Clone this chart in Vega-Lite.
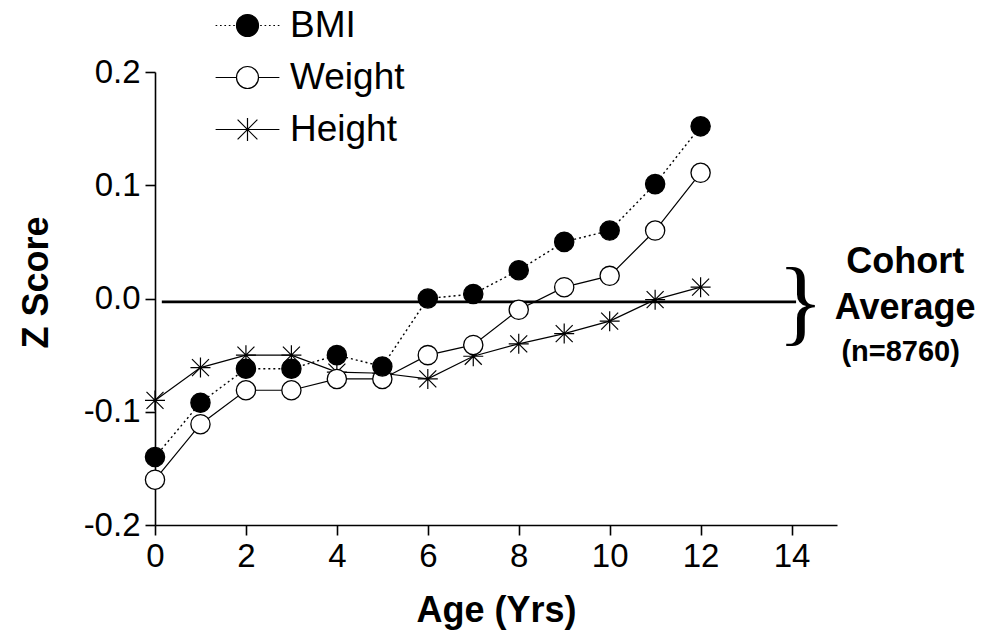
{
  "$schema": "https://vega.github.io/schema/vega-lite/v6.json",
  "width": 682,
  "height": 453,
  "autosize": "none",
  "padding": {"left": 155, "top": 72, "right": 144, "bottom": 112},
  "background": "white",
  "config": {
    "view": {"stroke": null},
    "font": "Liberation Sans",
    "axis": {
      "grid": false,
      "domainColor": "black",
      "domainWidth": 1.6,
      "tickColor": "black",
      "tickWidth": 1.6,
      "tickSize": 10,
      "labelColor": "black",
      "labelFont": "Liberation Sans",
      "labelFontSize": 33,
      "titleColor": "black",
      "titleFont": "Liberation Sans",
      "titleFontSize": 36,
      "titleFontWeight": "bold"
    }
  },
  "data": {
    "values": [
      {"age": 0, "series": "BMI", "z": -0.14},
      {"age": 1, "series": "BMI", "z": -0.092},
      {"age": 2, "series": "BMI", "z": -0.062},
      {"age": 3, "series": "BMI", "z": -0.062},
      {"age": 4, "series": "BMI", "z": -0.05},
      {"age": 5, "series": "BMI", "z": -0.06},
      {"age": 6, "series": "BMI", "z": 0.0},
      {"age": 7, "series": "BMI", "z": 0.004},
      {"age": 8, "series": "BMI", "z": 0.025},
      {"age": 9, "series": "BMI", "z": 0.05},
      {"age": 10, "series": "BMI", "z": 0.06},
      {"age": 11, "series": "BMI", "z": 0.101},
      {"age": 12, "series": "BMI", "z": 0.152},
      {"age": 0, "series": "Weight", "z": -0.16},
      {"age": 1, "series": "Weight", "z": -0.111},
      {"age": 2, "series": "Weight", "z": -0.081},
      {"age": 3, "series": "Weight", "z": -0.081},
      {"age": 4, "series": "Weight", "z": -0.071},
      {"age": 5, "series": "Weight", "z": -0.071},
      {"age": 6, "series": "Weight", "z": -0.05},
      {"age": 7, "series": "Weight", "z": -0.041},
      {"age": 8, "series": "Weight", "z": -0.01},
      {"age": 9, "series": "Weight", "z": 0.01},
      {"age": 10, "series": "Weight", "z": 0.02},
      {"age": 11, "series": "Weight", "z": 0.06},
      {"age": 12, "series": "Weight", "z": 0.111},
      {"age": 0, "series": "Height", "z": -0.09},
      {"age": 1, "series": "Height", "z": -0.061},
      {"age": 2, "series": "Height", "z": -0.05},
      {"age": 3, "series": "Height", "z": -0.05},
      {"age": 4, "series": "Height", "z": -0.065},
      {"age": 5, "series": "Height", "z": -0.066},
      {"age": 6, "series": "Height", "z": -0.071},
      {"age": 7, "series": "Height", "z": -0.051},
      {"age": 8, "series": "Height", "z": -0.04},
      {"age": 9, "series": "Height", "z": -0.031},
      {"age": 10, "series": "Height", "z": -0.02},
      {"age": 11, "series": "Height", "z": -0.001},
      {"age": 12, "series": "Height", "z": 0.01}
    ]
  },
  "encoding": {
    "x": {
      "field": "age",
      "type": "quantitative",
      "scale": {"domain": [0, 15], "nice": false},
      "axis": {"values": [0, 2, 4, 6, 8, 10, 12, 14], "title": "Age (Yrs)", "labelPadding": 5, "titlePadding": 20, "labelFlush": false}
    },
    "y": {
      "field": "z",
      "type": "quantitative",
      "scale": {"domain": [-0.2, 0.2], "nice": false, "zero": false},
      "axis": {"values": [-0.2, -0.1, 0, 0.1, 0.2], "labelExpr": "replace(format(datum.value, '.1f'), '\u2212', '-')", "title": "Z Score", "labelPadding": 5, "titlePadding": 28, "titleY": 210, "labelFlush": false}
    }
  },
  "layer": [
    {
      "transform": [{"filter": "datum.series === 'BMI' && datum.age === 0"}],
      "mark": {"type": "rule", "color": "black", "strokeWidth": 2.6},
      "encoding": {
        "x": {"datum": 0.15},
        "x2": {"datum": 14.1},
        "y": {"datum": -0.003}
      }
    },
    {
      "transform": [{"filter": "datum.series === 'Height'"}],
      "mark": {"type": "line", "color": "black", "strokeWidth": 1.2}
    },
    {
      "transform": [{"filter": "datum.series === 'Weight'"}],
      "mark": {"type": "line", "color": "black", "strokeWidth": 1.2}
    },
    {
      "transform": [{"filter": "datum.series === 'BMI'"}],
      "mark": {"type": "line", "color": "black", "strokeWidth": 1.4, "strokeDash": [2, 3]}
    },
    {
      "transform": [{"filter": "datum.series === 'Height'"}],
      "mark": {"type": "point", "shape": "M0,-1L0,1M-0.85,-0.85L0.85,0.85M-0.85,0.85L0.85,-0.85M-1,0L1,0", "size": 400, "stroke": "black", "strokeWidth": 1.2, "fill": null, "filled": false, "opacity": 1}
    },
    {
      "transform": [{"filter": "datum.series === 'Weight'"}],
      "mark": {"type": "point", "shape": "circle", "size": 370, "stroke": "black", "strokeWidth": 1.3, "fill": "white", "filled": true, "opacity": 1}
    },
    {
      "transform": [{"filter": "datum.series === 'BMI'"}],
      "mark": {"type": "point", "shape": "circle", "size": 370, "stroke": "black", "strokeWidth": 1.3, "fill": "black", "filled": true, "opacity": 1}
    },
    {
      "transform": [{"filter": "datum.age < 0"}],
      "mark": {"type": "point", "size": 484, "stroke": "black", "strokeWidth": 1.2, "opacity": 1, "filled": true},
      "encoding": {
        "shape": {
          "field": "series",
          "type": "nominal",
          "scale": {
            "domain": ["BMI", "Weight", "Height"],
            "range": [
              "M-2.9,0L-2.75,0M-2.5,0L-2.35,0M-2.1,0L-1.95,0M-1.7,0L-1.55,0M-1.3,0L-1.15,0M1.15,0L1.3,0M1.55,0L1.7,0M1.95,0L2.1,0M2.35,0L2.5,0M2.75,0L2.9,0M1,0A1,1 0 1,1 -1,0A1,1 0 1,1 1,0Z",
              "M-2.9,0L-1,0M1,0L2.9,0M1,0A1,1 0 1,1 -1,0A1,1 0 1,1 1,0Z",
              "M-2.9,0L2.9,0M0,-1.05L0,1.05M-0.9,-0.9L0.9,0.9M-0.9,0.9L0.9,-0.9"
            ]
          },
          "legend": {
            "title": null,
            "orient": "none",
            "legendX": 74,
            "legendY": -65,
            "padding": 0,
            "symbolSize": 484,
            "symbolStrokeColor": "black",
            "symbolStrokeWidth": 1.2,
            "symbolOpacity": 1,
            "labelFont": "Liberation Sans",
            "labelFontSize": 37,
            "labelColor": "black",
            "labelOffset": 24,
            "rowPadding": 14,
            "encode": {"symbols": {"update": {"stroke": {"value": "black"}, "strokeWidth": {"value": 1.2}, "opacity": {"value": 1}}}}
          }
        },
        "fill": {
          "field": "series",
          "type": "nominal",
          "scale": {"domain": ["BMI", "Weight", "Height"], "range": ["black", "white", "white"]},
          "legend": {
            "title": null,
            "orient": "none",
            "legendX": 74,
            "legendY": -65,
            "padding": 0,
            "symbolSize": 484,
            "symbolStrokeColor": "black",
            "symbolStrokeWidth": 1.2,
            "symbolOpacity": 1,
            "labelFont": "Liberation Sans",
            "labelFontSize": 37,
            "labelColor": "black",
            "labelOffset": 24,
            "rowPadding": 14,
            "encode": {"symbols": {"update": {"stroke": {"value": "black"}, "strokeWidth": {"value": 1.2}, "opacity": {"value": 1}}}}
          }
        }
      }
    },
    {
      "transform": [{"filter": "datum.series === 'BMI' && datum.age === 0"}],
      "mark": {"type": "text", "text": "}", "font": "Liberation Serif", "fontSize": 96, "color": "black", "align": "center", "baseline": "middle"},
      "encoding": {"x": {"datum": 14.2}, "y": {"datum": -0.005}}
    },
    {
      "transform": [{"filter": "datum.series === 'BMI' && datum.age === 0"}],
      "mark": {"type": "text", "text": "Cohort", "font": "Liberation Sans", "fontSize": 36, "fontWeight": "bold", "color": "black", "align": "center", "baseline": "middle"},
      "encoding": {"x": {"datum": 16.5}, "y": {"datum": 0.032}}
    },
    {
      "transform": [{"filter": "datum.series === 'BMI' && datum.age === 0"}],
      "mark": {"type": "text", "text": "Average", "font": "Liberation Sans", "fontSize": 36, "fontWeight": "bold", "color": "black", "align": "center", "baseline": "middle"},
      "encoding": {"x": {"datum": 16.5}, "y": {"datum": -0.008}}
    },
    {
      "transform": [{"filter": "datum.series === 'BMI' && datum.age === 0"}],
      "mark": {"type": "text", "text": "(n=8760)", "font": "Liberation Sans", "fontSize": 29, "fontWeight": "bold", "color": "black", "align": "center", "baseline": "middle"},
      "encoding": {"x": {"datum": 16.4}, "y": {"datum": -0.047}}
    }
  ]
}
